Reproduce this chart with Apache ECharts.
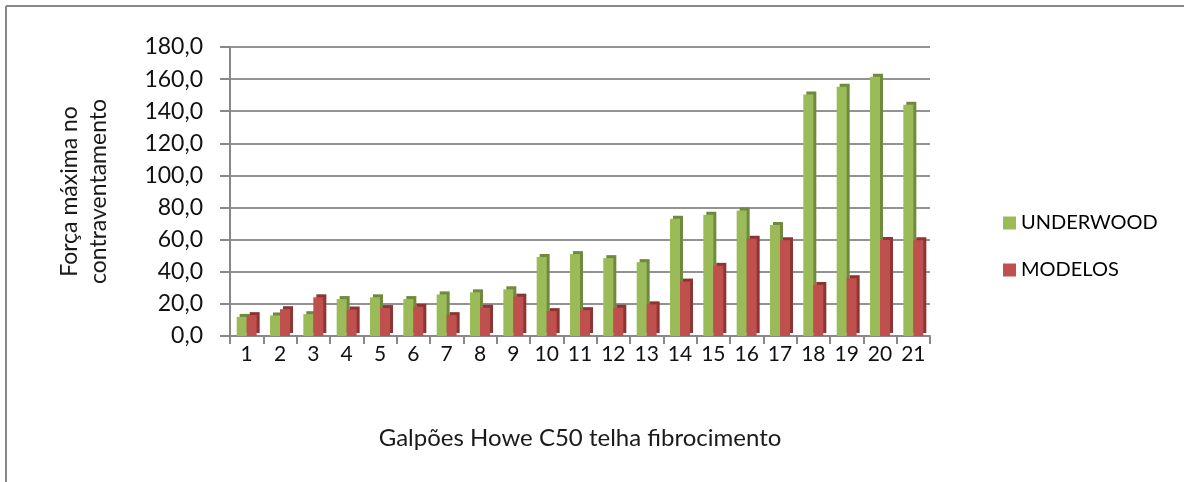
<!DOCTYPE html>
<html>
<head>
<meta charset="utf-8">
<script src="https://cdn.jsdelivr.net/npm/echarts@6/dist/echarts.min.js"></script>
<style>
  html, body { margin: 0; padding: 0; background: #fff; }
  #chart { width: 1184px; height: 482px; }
</style>
</head>
<body>
<div id="chart"></div>
<script>
// galpões 1..21
const categories = ["1","2","3","4","5","6","7","8","9","10","11","12","13","14","15","16","17","18","19","20","21"];
const underwood = [11.9, 12.8, 13.6, 23.0, 24.1, 23.0, 25.9, 27.2, 29.1, 49.2, 51.0, 48.5, 46.0, 73.0, 75.5, 78.2, 69.2, 150.4, 155.2, 161.5, 144.1];
const modelos = [13.0, 16.7, 24.1, 16.5, 17.4, 18.2, 13.0, 17.6, 24.5, 15.5, 16.1, 17.6, 19.7, 33.9, 43.7, 60.5, 59.6, 31.8, 36.0, 59.8, 59.6];

const fontFam = "Lato, 'Open Sans', sans-serif";
const chart = echarts.init(document.getElementById("chart"));

chart.setOption({
  animation: false,
  textStyle: { fontFamily: fontFam },
  grid: { left: 230, right: 254, top: 47, bottom: 146 },
  legend: {
    orient: "vertical",
    left: 998,
    top: 208,
    itemGap: 27,
    itemWidth: 13,
    itemHeight: 13,
    icon: "rect",
    textStyle: { fontSize: 20, color: "#000", fontFamily: fontFam },
    data: ["UNDERWOOD", "MODELOS"]
  },
  xAxis: {
    type: "category",
    data: categories,
    name: "Galpões Howe C50 telha fibrocimento",
    nameLocation: "middle",
    nameGap: 90,
    nameTextStyle: { fontSize: 24, color: "#1a1a1a", fontFamily: fontFam },
    axisLine: { lineStyle: { color: "#888", width: 2 } },
    axisTick: { show: true, length: 8, lineStyle: { color: "#888", width: 2 } },
    axisLabel: { fontSize: 21, color: "#111", margin: 8, interval: 0 }
  },
  yAxis: {
    type: "value",
    min: 0,
    max: 180,
    interval: 20,
    name: "Força máxima no\ncontraventamento",
    nameLocation: "middle",
    nameRotate: 90,
    nameGap: 117,
    nameTextStyle: { fontSize: 23, color: "#1a1a1a", lineHeight: 29, fontFamily: fontFam },
    axisLine: { show: true, lineStyle: { color: "#888", width: 2 } },
    axisTick: { show: true, length: 10, lineStyle: { color: "#888", width: 2 } },
    axisLabel: {
      fontSize: 23,
      color: "#111",
      margin: 27,
      formatter: function (v) { return v.toFixed(1).replace(".", ","); }
    },
    splitLine: { lineStyle: { color: "#939393", width: 2 } }
  },
  series: [
    {
      name: "UNDERWOOD",
      type: "bar",
      data: underwood,
      barWidth: 10,
      barGap: "0%",
      itemStyle: {
        color: "#9bbb59",
        shadowColor: "#6f8a3c",
        shadowOffsetX: 3,
        shadowOffsetY: -3,
        shadowBlur: 0
      }
    },
    {
      name: "MODELOS",
      type: "bar",
      data: modelos,
      barWidth: 10,
      barGap: "0%",
      itemStyle: {
        color: "#c0504d",
        shadowColor: "#8e3533",
        shadowOffsetX: 3,
        shadowOffsetY: -3,
        shadowBlur: 0
      }
    }
  ],
  graphic: [
    { type: "line", shape: { x1: 6, y1: 6, x2: 1184, y2: 6 }, style: { stroke: "#888", lineWidth: 2 } },
    { type: "line", shape: { x1: 6, y1: 6, x2: 6, y2: 482 }, style: { stroke: "#888", lineWidth: 2 } }
  ]
});
</script>
</body>
</html>
